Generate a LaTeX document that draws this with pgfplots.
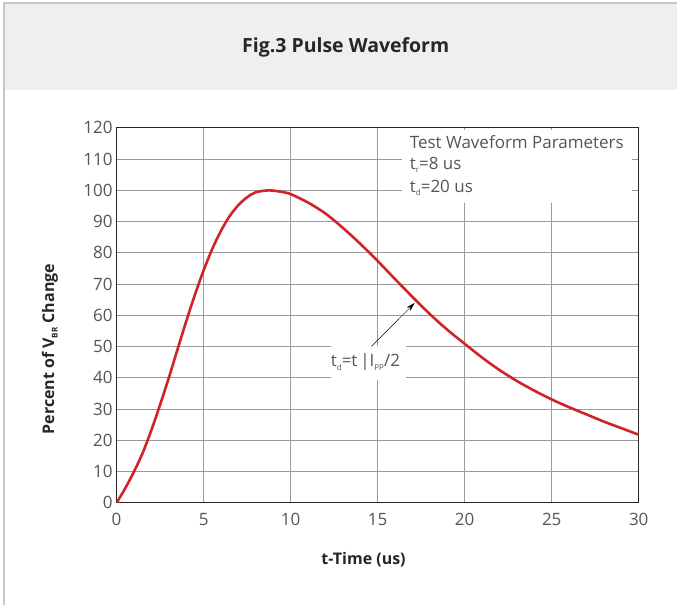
\documentclass[border=0pt]{standalone}
\usepackage{pgfplots}
\pgfplotsset{compat=1.18}
\usetikzlibrary{arrows.meta}
\usepackage{fontspec}
\setmainfont{Open Sans}
\definecolor{curvered}{HTML}{D0232A}
\definecolor{gridgray}{HTML}{9A9A9A}
\definecolor{txtgray}{HTML}{555555}
\definecolor{headgray}{HTML}{EFEFEF}
\definecolor{framegray}{HTML}{C8C8C8}
\newcommand{\sub}[1]{\raisebox{-0.4ex}{\fontsize{8}{8}\selectfont #1}}
\begin{document}
\begin{tikzpicture}[x=1pt,y=1pt]
\fill[white] (0,0) rectangle (678,606);
\fill[headgray] (4,603) rectangle (678,515.5);
\draw[framegray, line width=1.2pt] (4,0) -- (4,603) -- (678,603);
\node[font=\fontsize{19.5}{22}\selectfont\bfseries, text=black!85] at (346,558.5) {Fig.3 Pulse Waveform};
\begin{axis}[
  at={(116.7pt,102.7pt)}, anchor=south west,
  scale only axis, width=522.6pt, height=375.3pt,
  xmin=0, xmax=30, ymin=0, ymax=120,
  xtick={0,5,...,30}, ytick={0,10,...,120},
  major tick length=0pt,
  grid=major,
  grid style={gridgray, line width=0.8pt},
  axis line style={black!85, line width=0.9pt},
  /pgf/number format/assume math mode=true,
  tick label style={font=\fontsize{17}{18}\selectfont, text=txtgray},
  xticklabel style={yshift=-6.5pt},
  yticklabel style={xshift=-0.5pt},
  xlabel={t-Time (us)},
  ylabel={Percent of V\sub{BR} Change},
  label style={font=\fontsize{16}{18}\selectfont\bfseries, text=black!85},
  xlabel style={at={(rel axis cs:0.473,-0.151)}, anchor=center},
  ylabel style={at={(rel axis cs:-0.1276,0.41)}, anchor=center},
]
\addplot[curvered, line width=2.6pt, smooth] table {
x y
0 0
0.5 4.7
1 10.0
1.5 16.0
2 23.3
2.5 31.4
3 40.0
3.5 49.1
4 58.1
4.5 66.6
5 74.4
5.5 81.3
6 87.1
6.5 91.8
7 95.3
7.5 97.8
8 99.4
8.75 100
9.5 99.5
10 98.8
11 96.1
12 92.6
13 88.0
14 82.9
15 77.4
16 71.6
17 65.9
18 60.4
19 55.4
20 50.9
21 46.5
22 42.5
23 39.0
24 35.9
25 33.1
26 30.6
27 28.3
28 26.0
29 23.9
30 21.8
};
\fill[white] (axis cs:16.38,96.0) rectangle (axis cs:29.64,119.4);
\fill[white] (axis cs:12.3,39.4) rectangle (axis cs:16.6,50.05);
\begin{scope}[every node/.style={anchor=west, inner sep=0pt, font=\fontsize{17}{18}\selectfont, text=txtgray}]
\node at (axis cs:16.84,115.5) {Test Waveform Parameters};
\node at (axis cs:16.84,108.2) {t\sub{r}=8 us};
\node at (axis cs:16.84,100.8) {t\sub{d}=20 us};
\node at (axis cs:12.3,44.9) {t\sub{d}=t\,|I\sub{PP}/2};
\end{scope}
\draw[-{Stealth[length=9pt,width=5pt]}, line width=0.5pt] (axis cs:14.64,50.1) -- (axis cs:17.13,64);
\end{axis}
\end{tikzpicture}
\end{document}
